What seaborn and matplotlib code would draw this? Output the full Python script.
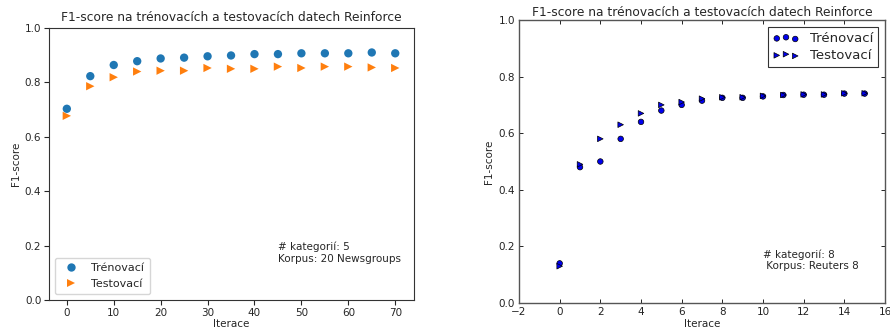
import matplotlib
matplotlib.use("Agg")
import matplotlib.pyplot as plt
import seaborn as sns
import pandas as pd

sns.set_style("white")
plt.rcParams['font.family'] = ['DejaVu Sans']

# Left chart: 20 Newsgroups
iter_left = [0, 5, 10, 15, 20, 25, 30, 35, 40, 45, 50, 55, 60, 65, 70]
train_left = [0.703, 0.823, 0.864, 0.878, 0.888, 0.891, 0.896, 0.899, 0.904, 0.904, 0.907, 0.907, 0.907, 0.910, 0.907]
test_left = [0.677, 0.786, 0.819, 0.840, 0.843, 0.843, 0.853, 0.850, 0.850, 0.858, 0.853, 0.858, 0.858, 0.855, 0.853]

# Right chart: Reuters 8
iter_right = list(range(16))
train_right = [0.140, 0.480, 0.500, 0.580, 0.640, 0.680, 0.700, 0.715, 0.725, 0.725, 0.730, 0.735, 0.736, 0.736, 0.740, 0.740]
test_right = [0.130, 0.490, 0.580, 0.630, 0.670, 0.700, 0.710, 0.722, 0.727, 0.727, 0.732, 0.735, 0.737, 0.737, 0.741, 0.741]

labels = ["Trénovací", "Testovací"]
title = "F1-score na trénovacích a testovacích datech Reinforce"

fig = plt.figure(figsize=(8.9, 3.31), dpi=100)
ax1 = fig.add_axes([49/890, 1-300/331, 365/890, 272/331])
ax2 = fig.add_axes([519/890, 1-303/331, 366/890, 283/331])

FS = 7.5

# ---- left
dfl = pd.DataFrame({
    "Iterace": iter_left * 2,
    "F1": train_left + test_left,
    "Sada": [labels[0]] * len(iter_left) + [labels[1]] * len(iter_left),
})
sns.scatterplot(data=dfl, x="Iterace", y="F1", hue="Sada", style="Sada",
                markers={labels[0]: "o", labels[1]: ">"},
                palette={labels[0]: "#1f77b4", labels[1]: "#ff7f0e"},
                s=36, edgecolor="none", linewidth=0, ax=ax1)
ax1.set_ylim(0, 1.0)
ax1.set_xlim(-3.8, 74)
ax1.set_xticks(range(0, 71, 10))
ax1.set_yticks([0, 0.2, 0.4, 0.6, 0.8, 1.0])
ax1.set_yticklabels(["0.0", "0.2", "0.4", "0.6", "0.8", "1.0"])
ax1.set_title(title, fontsize=8.8, pad=5)
ax1.set_xlabel("Iterace", fontsize=FS, labelpad=1)
ax1.set_ylabel("F1-score", fontsize=FS, labelpad=3)
ax1.tick_params(axis="both", labelsize=FS, length=3.5, width=0.8, direction="out",
                bottom=True, left=True, colors="#262626", pad=2)
for sp in ax1.spines.values():
    sp.set_color("#333333")
    sp.set_linewidth(0.8)
leg = ax1.legend(loc="lower left", fontsize=FS + 0.5, title=None, frameon=True,
                 handletextpad=0.8, borderpad=0.5, labelspacing=0.5)
leg.get_frame().set_edgecolor("#cccccc")
ax1.text(45, 0.215, "# kategorií: 5\nKorpus: 20 Newsgroups", fontsize=FS,
         va="top", ha="left", linespacing=1.2)

# ---- right (classic look)
dfr = pd.DataFrame({
    "Iterace": iter_right * 2,
    "F1": train_right + test_right,
    "Sada": [labels[0]] * len(iter_right) + [labels[1]] * len(iter_right),
})
sns.scatterplot(data=dfr, x="Iterace", y="F1", hue="Sada", style="Sada",
                markers={labels[0]: "o", labels[1]: ">"},
                palette={labels[0]: "#0000ee", labels[1]: "#0000ee"},
                s=16, edgecolor="black", linewidth=0.5, ax=ax2, legend=False)
ax2.set_xlim(-2, 16)
ax2.set_ylim(0, 1.0)
ax2.set_xticks(range(-2, 17, 2))
ax2.set_xticklabels(["\u22122"] + [str(v) for v in range(0, 17, 2)])
ax2.set_yticks([0, 0.2, 0.4, 0.6, 0.8, 1.0])
ax2.set_yticklabels(["0.0", "0.2", "0.4", "0.6", "0.8", "1.0"])
ax2.set_title(title, fontsize=8.8, pad=3)
ax2.set_xlabel("Iterace", fontsize=FS, labelpad=1)
ax2.set_ylabel("F1-score", fontsize=FS, labelpad=3)
ax2.tick_params(axis="both", labelsize=FS, direction="in", length=3, width=0.6,
                top=True, right=True, bottom=True, left=True, colors="black", pad=3)
ax2.tick_params(axis="both", labelcolor="#222222")
for sp in ax2.spines.values():
    sp.set_color("#555555")
    sp.set_linewidth(1.0)
h1 = ax2.scatter([], [], marker="o", s=16, c="#0000ee", edgecolors="black", linewidths=0.5)
h2 = ax2.scatter([], [], marker=">", s=16, c="#0000ee", edgecolors="black", linewidths=0.5)
leg2 = ax2.legend([h1, h2], labels, loc="upper right", fontsize=FS + 2,
                  scatterpoints=3, fancybox=False, frameon=True,
                  handletextpad=0.8, borderpad=0.4, labelspacing=0.3)
leg2.get_frame().set_edgecolor("black")
leg2.get_frame().set_linewidth(0.8)
ax2.text(10.0, 0.19, "# kategorií: 8\n Korpus: Reuters 8", fontsize=FS,
         va="top", ha="left", linespacing=1.2)

fig.savefig("out.png", dpi=100)
